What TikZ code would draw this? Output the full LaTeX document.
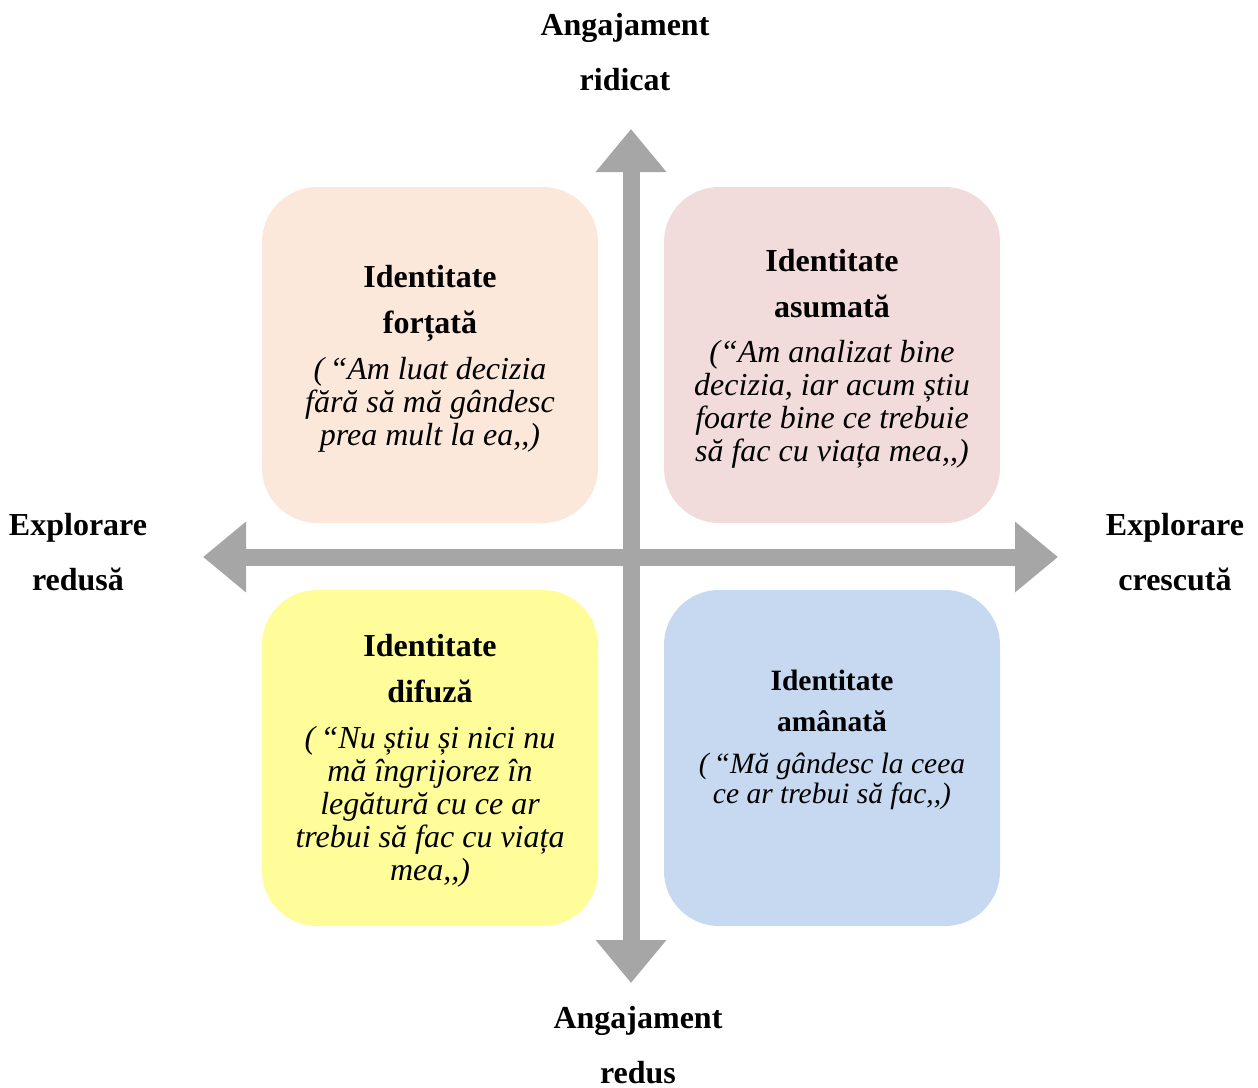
\documentclass[tikz,border=0pt]{standalone}
\usepackage{fontspec}
\setmainfont{Liberation Serif}
\usetikzlibrary{arrows.meta}

\definecolor{peach}{HTML}{FCE8DA}
\definecolor{rosepink}{HTML}{F2DCDB}
\definecolor{paleyellow}{HTML}{FEFD99}
\definecolor{paleblue}{HTML}{C6D9F1}
\definecolor{axisgray}{HTML}{A6A6A6}

\tikzset{
  quadrant/.style={rectangle, rounded corners=55pt, minimum width=336pt, minimum height=336pt, inner sep=0pt},
  axislabel/.style={align=center, inner sep=0pt, font=\fontsize{32}{55}\selectfont\bfseries},
  title/.style={align=center, inner sep=0pt, font=\fontsize{32}{46}\selectfont\bfseries},
  quote/.style={align=center, inner sep=0pt, font=\fontsize{32}{33}\selectfont\itshape},
  axisarrow/.style={axisgray, line width=17pt, {Triangle[length=43pt,width=68pt]}-{Triangle[length=43pt,width=68pt]}}
}

\begin{document}
\begin{tikzpicture}[x=1pt,y=-1pt]
            \useasboundingbox (0,0) rectangle (1258,1087);

            % Quadrants
            \node[quadrant, fill=peach] (forced) at (430,355) {};
            \node[quadrant, fill=rosepink] (achieved) at (832,355) {};
            \node[quadrant, fill=paleyellow] (diffuse) at (430,758) {};
            \node[quadrant, fill=paleblue] (moratorium) at (832,758) {};

            % Axes
            \coordinate (top) at (631,129);
            \coordinate (bottom) at (631,983);
            \coordinate (left) at (203,557);
            \coordinate (right) at (1058,557);
            \draw[axisarrow] (bottom) -- (top);
            \draw[axisarrow] (left) -- (right);

            % Axis labels
            \node[axislabel] (high) at (625,52) {Angajament\\ridicat};
            \node[axislabel] (low) at (638,1045) {Angajament\\redus};
            \node[axislabel] (reduced) at (78,552) {Explorare\\redusă};
            \node[axislabel] (increased) at (1175,552) {Explorare\\crescută};

            % Quadrant texts
            \node[title] (forcedtitle) at (430,303) {Identitate\\forțată};
            \node[quote] (forcedquote) at (430,405) {(\,“Am luat decizia\\fără să mă gândesc\\prea mult la ea,{},)};
            \node[title] (achievedtitle) at (832,284) {Identitate\\asumată};
            \node[quote] (achievedquote) at (832,404) {(“Am analizat bine\\decizia, iar acum știu\\foarte bine ce trebuie\\să fac cu viața mea,{},)};
            \node[title] (diffusetitle) at (430,669) {Identitate\\difuză};
            \node[quote] (diffusequote) at (430,807) {(\,“Nu știu și nici nu\\mă îngrijorez în\\legătură cu ce ar\\trebui să fac cu viața\\mea,{},)};
            \node[title, font=\fontsize{29.5}{41}\selectfont\bfseries] (moratoriumtitle) at (832,701) {Identitate\\amânată};
            \node[quote, font=\fontsize{29.5}{30}\selectfont\itshape] (moratoriumquote) at (832,781) {(\,“Mă gândesc la ceea\\ce ar trebui să fac,{},)};
\end{tikzpicture}
\end{document}
